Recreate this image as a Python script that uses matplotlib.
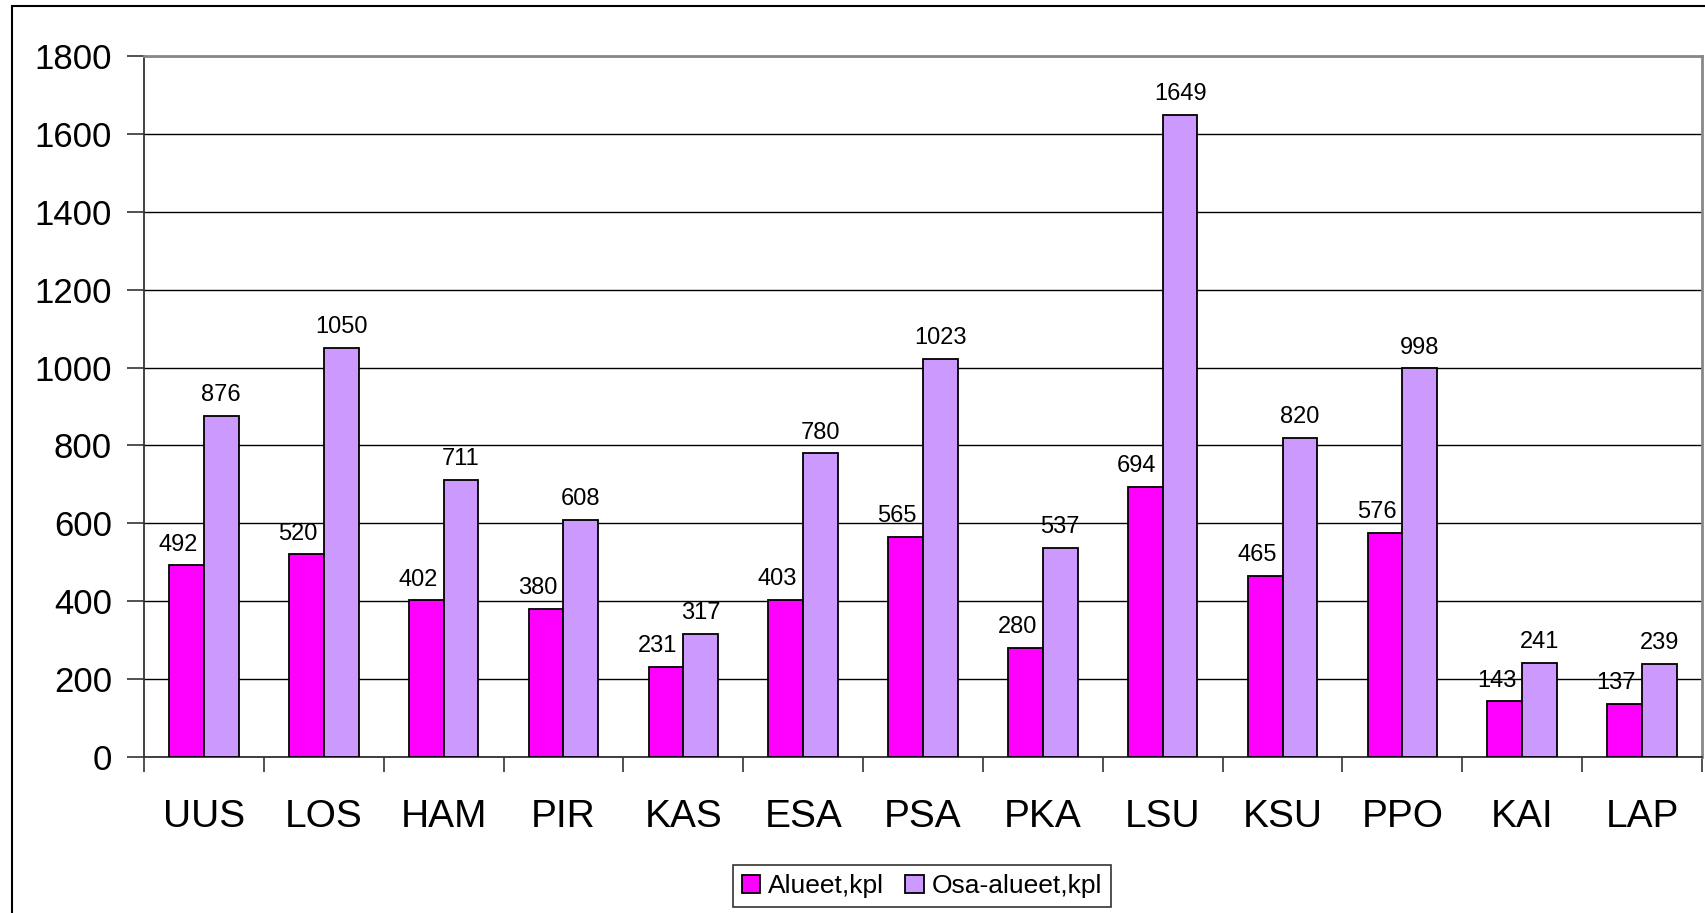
import matplotlib
matplotlib.use("Agg")
import matplotlib.pyplot as plt
from matplotlib.patches import Rectangle
from matplotlib.ticker import FixedLocator, NullFormatter
import numpy as np

categories = ["UUS", "LOS", "HAM", "PIR", "KAS", "ESA", "PSA", "PKA", "LSU", "KSU", "PPO", "KAI", "LAP"]
alueet = [492, 520, 402, 380, 231, 403, 565, 280, 694, 465, 576, 143, 137]
osa_alueet = [876, 1050, 711, 608, 317, 780, 1023, 537, 1649, 820, 998, 241, 239]
series_names = ["Alueet,kpl", "Osa-alueet,kpl"]
yticks = [0, 200, 400, 600, 800, 1000, 1200, 1400, 1600, 1800]

plt.rcParams['font.family'] = ['Liberation Sans', 'DejaVu Sans']

W, H = 1706, 913
fig = plt.figure(figsize=(W / 100, H / 100), dpi=100)
ax = fig.add_axes([144 / W, 1 - 757 / H, (1702 - 144) / W, (757 - 56) / H])

x = np.arange(len(categories))
bw = 0.29
b1 = ax.bar(x - bw / 2, alueet, bw, color="#FF00FF", edgecolor="black", linewidth=1.3, label=series_names[0], zorder=3)
b2 = ax.bar(x + bw / 2, osa_alueet, bw, color="#CC99FF", edgecolor="black", linewidth=1.3, label=series_names[1], zorder=3)

for xi, v in zip(x, alueet):
    ax.annotate(str(v), (xi - bw / 2, v), xytext=(-6, 7), textcoords="offset points",
                ha="center", va="bottom", fontsize=17)
for xi, v in zip(x, osa_alueet):
    ax.annotate(str(v), (xi + bw / 2, v), xytext=(0, 7), textcoords="offset points",
                ha="center", va="bottom", fontsize=17)

ax.set_xlim(-0.5, len(categories) - 0.5)
ax.set_ylim(0, 1800)
ax.set_yticks(yticks)
ax.yaxis.grid(True, color="black", linewidth=1.0, zorder=0)
ax.set_axisbelow(True)
ax.tick_params(axis="y", labelsize=25, length=12, width=1.2, pad=11, color="#333333")

ax.set_xticks(x)
ax.set_xticklabels(categories)
ax.tick_params(axis="x", which="major", length=0, labelsize=28, pad=30)
ax.xaxis.set_minor_locator(FixedLocator(np.arange(-0.5, len(categories), 1.0)))
ax.xaxis.set_minor_formatter(NullFormatter())
ax.tick_params(axis="x", which="minor", length=11, width=1.2, color="#333333")

for s in ["left", "bottom"]:
    ax.spines[s].set_color("#333333")
    ax.spines[s].set_linewidth(1.3)
for s in ["top", "right"]:
    ax.spines[s].set_color("#888888")
    ax.spines[s].set_linewidth(2)

leg = fig.legend(handles=[b1, b2], labels=series_names, loc="center",
                 bbox_to_anchor=(922 / W, 1 - 886 / H), ncol=2, fontsize=19,
                 frameon=True, fancybox=False, edgecolor="black", handlelength=0.7,
                 handleheight=0.7, handletextpad=0.3, columnspacing=0.8, borderpad=0.35)
leg.get_frame().set_linewidth(1.2)

fig.patches.append(Rectangle((12 / W, -0.1), 1.2, 1 - 6 / H + 0.1, transform=fig.transFigure,
                             fill=False, edgecolor="black", linewidth=1.5))

fig.savefig("out.png", dpi=100)
